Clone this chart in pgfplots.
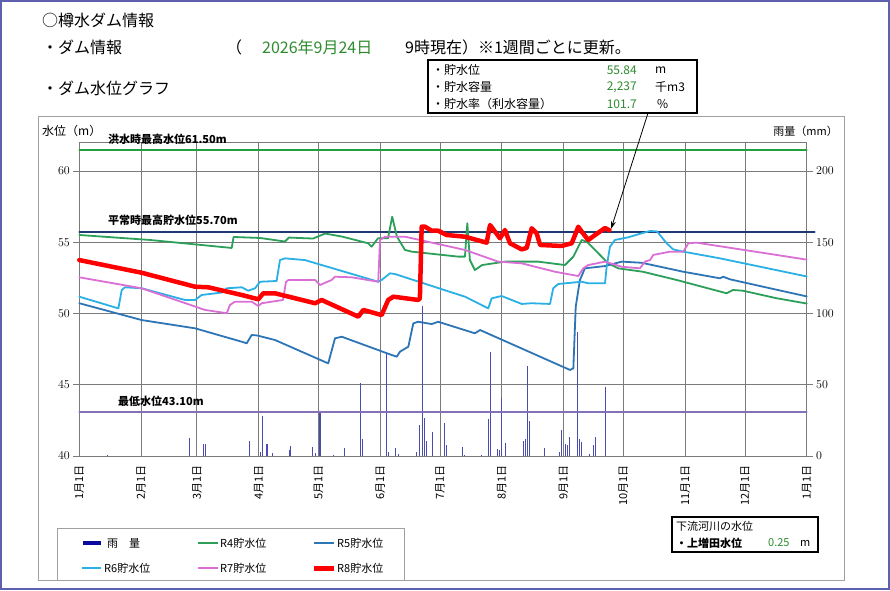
\documentclass[border=0pt]{standalone}
\usepackage{pgfplots}
\pgfplotsset{compat=1.18}
\usepackage{fontspec}
\setmainfont{Noto Sans CJK JP}
\usetikzlibrary{arrows.meta}
\definecolor{borderc}{HTML}{5F5FAF}
\definecolor{framec}{HTML}{A0A0A0}
\definecolor{gridc}{HTML}{7A7A7A}
\definecolor{floodc}{HTML}{22A03C}
\definecolor{navyc}{HTML}{1F3A70}
\definecolor{minc}{HTML}{8472B8}
\definecolor{r4c}{HTML}{2CA05A}
\definecolor{r5c}{HTML}{2E75B6}
\definecolor{r6c}{HTML}{2AB0E4}
\definecolor{r7c}{HTML}{DA6FD6}
\definecolor{r8c}{HTML}{FF0000}
\definecolor{rainc}{HTML}{4B4BB0}
\definecolor{rainleg}{HTML}{0A0AA0}
\definecolor{txtgreen}{HTML}{2E8B2E}
\newcommand\fs[1]{\fontsize{#1}{#1}\selectfont}
\begin{document}
\begin{tikzpicture}[x=1pt,y=1pt]
\useasboundingbox (0,0) rectangle (890,590);
\fill[white] (0,0) rectangle (890,590);
\draw[borderc, line width=2pt] (1,1) rectangle (889,589);
\draw[framec, line width=0.8pt] (38,10) rectangle (844,474);

% header
\node[anchor=west, inner sep=0] at (42,570) {\fs{16}○樽水ダム情報};
\node[anchor=west, inner sep=0] at (42,543) {\fs{16}・ダム情報};
\node[anchor=west, inner sep=0] at (226,543) {\fs{16}（};
\node[anchor=west, inner sep=0, text=txtgreen] at (262,543) {\fs{16}2026年9月24日};
\node[anchor=west, inner sep=0] at (405,543) {\fs{16}9時現在）※1週間ごとに更新。};
\node[anchor=west, inner sep=0] at (42,502) {\fs{16}・ダム水位グラフ};

% rain axis (right)
\begin{axis}[at={(79.3pt,134pt)}, anchor=south west, scale only axis,
  width=727.4pt, height=313.5pt,
  xmin=0, xmax=365, ymin=0, ymax=220,
  xtick={0,31,59,90,120,151,181,212,243,273,304,334,365},
  xticklabels={1月1日,2月1日,3月1日,4月1日,5月1日,6月1日,7月1日,8月1日,9月1日,10月1日,11月1日,12月1日,1月1日},
  xticklabel style={rotate=90, anchor=east, font=\fs{11}},
  xtick style={/pgfplots/major tick length=0pt},
  ytick={0,50,100,150,200},
  ytick pos=right, yticklabel pos=right,
  yticklabel style={font=\fs{12}},
  tick align=outside, major tick length=6pt,
  grid=major, major grid style={gridc, line width=0.8pt},
  axis line style={gridc, line width=0.8pt},
  tick style={gridc, line width=0.8pt},
  ]
\addplot[ycomb, rainc, line width=1pt, no marks] coordinates {
(14.0,1) (55.2,12.9) (62.2,8.2) (63.1,8.2) (85.3,10.5) (91.0,3) (92.0,28.3)
(94.0,8.4) (94.4,8.4) (96.7,2) (105.4,4) (106.1,7.2) (116.9,6) (118.3,2)
(120.4,31) (121.1,31) (127.8,1) (133.2,5.4) (141.2,51) (142.0,12)
(154.1,73) (155.0,3) (158.9,5.4) (160.4,1.5) (169.3,3) (170.9,21.8)
(172.3,105) (173.0,27) (174.0,10.5) (177.1,17) (183.1,23) (184.1,8)
(192.4,6) (193.5,1) (201.9,1) (205.2,25.7) (206.4,73) (209.7,4.7)
(210.6,4) (212.1,40.5) (214.1,9.4) (223.1,10.5) (224.1,12) (225.0,63)
(226.1,24.8) (233.2,5.6) (241.2,3) (242.2,18.2) (244.2,8.4) (245.2,8)
(246.2,13) (250.1,87) (250.9,12) (252.1,9.7) (256.2,1.5) (257.9,8)
(259.1,13.2) (263.9,48.2)};
\end{axis}

% level axis (left)
\begin{axis}[at={(79.3pt,134pt)}, anchor=south west, scale only axis,
  width=727.4pt, height=313.5pt,
  xmin=0, xmax=365, ymin=40, ymax=62,
  xtick=\empty, clip=false,
  ytick={40,45,50,55,60},
  ytick pos=left, yticklabel pos=left,
  yticklabel style={font=\fs{12}},
  tick align=outside, major tick length=6pt,
  axis line style={gridc, line width=0.8pt},
  tick style={gridc, line width=0.8pt},
  every axis plot/.append style={no marks, line join=round, line cap=round},
  ]
\addplot[floodc, line width=2pt] coordinates {(0,61.5) (365,61.5)};
\addplot[navyc, line width=2pt] coordinates {(0,55.7) (369,55.7)};
\addplot[minc, line width=2pt] coordinates {(0,43.1) (365,43.1)};
% R4
\addplot[r4c, line width=1.8pt] coordinates {
(0,55.51) (35.5,55.16) (76.5,54.60) (77.4,55.37) (90.7,55.30) (103.2,55.05)
(105.2,55.33) (117.3,55.26) (123.3,55.61) (131.8,55.40) (144.9,54.93)
(146.7,54.69) (149.9,55.28) (154.9,55.28) (157.0,56.79) (159.4,55.39)
(163.4,54.46) (166.9,54.34) (190.2,53.99) (193.5,53.99) (194.7,56.33)
(196.0,53.75) (198.5,53.05) (202.1,53.40) (213.6,53.64) (230.2,53.64)
(243.7,53.40) (247.9,53.99) (252.1,55.16) (254.7,55.04) (265.4,53.52)
(270.4,53.17) (282.8,52.93) (299.8,52.35) (324.8,51.42) (328.0,51.65)
(333.0,51.60) (349.9,51.07) (365,50.70)};
% R5
\addplot[r5c, line width=1.8pt] coordinates {
(0,50.72) (31.3,49.54) (58.1,48.96) (81.5,48.02) (84.0,47.91) (86.5,48.49)
(89.2,48.46) (98.2,48.14) (124.9,46.50) (128.3,48.26) (131.7,48.37)
(156.7,47.09) (159.3,46.97) (160.9,47.32) (165.1,47.67) (167.6,49.31)
(170.1,49.42) (176.8,49.26) (180.1,49.42) (198.5,48.61) (201.1,48.84)
(246.2,46.04) (247.9,46.15) (249.1,50.48) (251.2,52.35) (253.7,53.17)
(263.8,53.33) (272.2,53.64) (282.2,53.56) (303.1,52.93) (321.5,52.47)
(323.1,52.58) (326.5,52.40) (346.6,51.77) (365,51.20)};
% R6
\addplot[r6c, line width=1.8pt] coordinates {
(0,51.18) (19.6,50.36) (21.3,51.65) (22.9,51.84) (31.3,51.77) (53.0,50.95)
(58.1,50.95) (61.4,51.30) (71.5,51.47) (74.0,51.77) (81.5,51.84) (84.8,51.60)
(88.2,51.77) (90.7,52.23) (99.0,52.28) (100.7,53.75) (103.2,53.87)
(113.2,53.75) (150.0,52.23) (151.7,52.35) (155.9,52.82) (158.4,52.77)
(193.5,51.18) (205.2,50.36) (206.9,51.06) (211.9,51.23) (222.0,50.67)
(227.0,50.72) (236.2,50.67) (237.8,51.77) (240.3,52.07) (252.1,52.23)
(255.4,52.12) (263.8,52.12) (264.6,53.28) (266.3,54.69) (268.8,55.16)
(275.5,55.35) (282.2,55.63) (286.4,55.79) (289.9,55.76) (294.7,54.93)
(298.0,54.50) (303.1,54.34) (321.5,53.87) (365,52.60)};
% R7
\addplot[r7c, line width=1.8pt] coordinates {
(0,52.54) (31.3,51.77) (63.1,50.25) (74.0,50.02) (75.6,50.60) (78.1,50.83)
(86.5,50.83) (89.8,50.53) (91.5,50.72) (102.2,50.95) (103.7,52.21)
(104.9,52.35) (118.3,52.35) (120.8,52.00) (126.6,52.35) (128.3,52.58)
(136.7,52.54) (150.0,52.23) (150.9,55.16) (153.4,55.39) (163.4,55.39)
(193.5,54.46) (210.2,53.64) (222.0,53.52) (238.7,52.93) (250.4,52.63)
(252.9,53.17) (255.4,53.40) (263.8,53.64) (272.2,53.28) (281.3,53.17)
(283.8,53.64) (286.4,53.75) (288.0,54.11) (296.4,54.34) (303.1,54.34)
(305.6,54.93) (309.8,54.97) (346.6,54.18) (365,53.78)};
% R8
\addplot[r8c, line width=4.5pt] coordinates {
(0,53.75) (31.3,52.86) (58.1,51.88) (64.7,51.84) (81.5,51.30) (89.8,51.00)
(92.3,51.42) (98.2,51.42) (118.3,50.72) (121.6,50.95) (140.0,49.78)
(142.5,50.25) (151.7,49.89) (155.0,50.95) (157.6,51.18) (170.1,50.95)
(170.9,51.07) (171.8,56.09) (173.5,56.09) (176.8,55.81) (180.1,55.81)
(184.3,55.51) (193.5,55.39) (204.4,54.97) (206.1,56.21) (208.6,55.74)
(211.1,55.28) (213.6,55.86) (216.1,54.93) (222.0,54.50) (224.5,54.60)
(227.0,55.98) (229.5,55.63) (231.2,54.81) (242.0,54.74) (247.1,54.93)
(250.4,56.09) (252.1,55.74) (255.4,55.16) (258.8,55.51) (263.8,56.00)
(266.0,55.84)};
\end{axis}

% axis titles
\node[anchor=west, inner sep=0] at (42,459) {\fs{12}水位（m）};
\node[anchor=east, inner sep=0] at (838,459) {\fs{11}雨量（mm）};
% reference line labels
\node[anchor=west, inner sep=0] at (108,451) {\fs{11}\bfseries 洪水時最高水位61.50m};
\node[anchor=west, inner sep=0] at (108,370) {\fs{11}\bfseries 平常時最高貯水位55.70m};
\node[anchor=west, inner sep=0] at (118,189) {\fs{11}\bfseries 最低水位43.10m};

% info box
\draw[black, line width=1.2pt, fill=white] (428,477) rectangle (697,530);
\node[anchor=west, inner sep=0] at (432,520) {\fs{12}・貯水位};
\node[anchor=west, inner sep=0] at (432,503) {\fs{12}・貯水容量};
\node[anchor=west, inner sep=0] at (432,486) {\fs{12}・貯水率（利水容量）};
\node[anchor=east, inner sep=0, text=txtgreen] at (637,520) {\fs{12}55.84};
\node[anchor=east, inner sep=0, text=txtgreen] at (637,503) {\fs{12}2,237};
\node[anchor=east, inner sep=0, text=txtgreen] at (637,486) {\fs{12}101.7};
\node[anchor=west, inner sep=0] at (655,520) {\fs{12}m};
\node[anchor=west, inner sep=0] at (655,503) {\fs{12}千m3};
\node[anchor=west, inner sep=0] at (657,486) {\fs{12}\%};
\draw[black, line width=0.8pt, -{Stealth[length=8pt,width=5pt]}] (648,477) -- (611,361);

% legend
\draw[framec, line width=0.8pt] (57,10) rectangle (404,62);
\draw[rainleg, line width=4pt] (83,47) -- (101,47);
\node[anchor=west, inner sep=0] at (107,47) {\fs{11}雨　量};
\draw[r4c, line width=2.5pt] (198,47) -- (218,47);
\node[anchor=west, inner sep=0] at (220,47) {\fs{11}R4貯水位};
\draw[r5c, line width=2.5pt] (314,47) -- (334,47);
\node[anchor=west, inner sep=0] at (337,47) {\fs{11}R5貯水位};
\draw[r6c, line width=2.5pt] (82,22) -- (101,22);
\node[anchor=west, inner sep=0] at (104,22) {\fs{11}R6貯水位};
\draw[r7c, line width=2.5pt] (198,22) -- (218,22);
\node[anchor=west, inner sep=0] at (220,22) {\fs{11}R7貯水位};
\draw[r8c, line width=5pt] (314,22) -- (334,22);
\node[anchor=west, inner sep=0] at (337,22) {\fs{11}R8貯水位};

% downstream box
\draw[black, line width=1.2pt, fill=white] (672,38) rectangle (818,73);
\node[anchor=west, inner sep=0] at (676,64) {\fs{11}下流河川の水位};
\node[anchor=west, inner sep=0] at (676,47) {\fs{11}\bfseries ・上増田水位};
\node[anchor=west, inner sep=0, text=txtgreen] at (768,47) {\fs{11}0.25};
\node[anchor=west, inner sep=0] at (800,47) {\fs{11}m};
\end{tikzpicture}
\end{document}
